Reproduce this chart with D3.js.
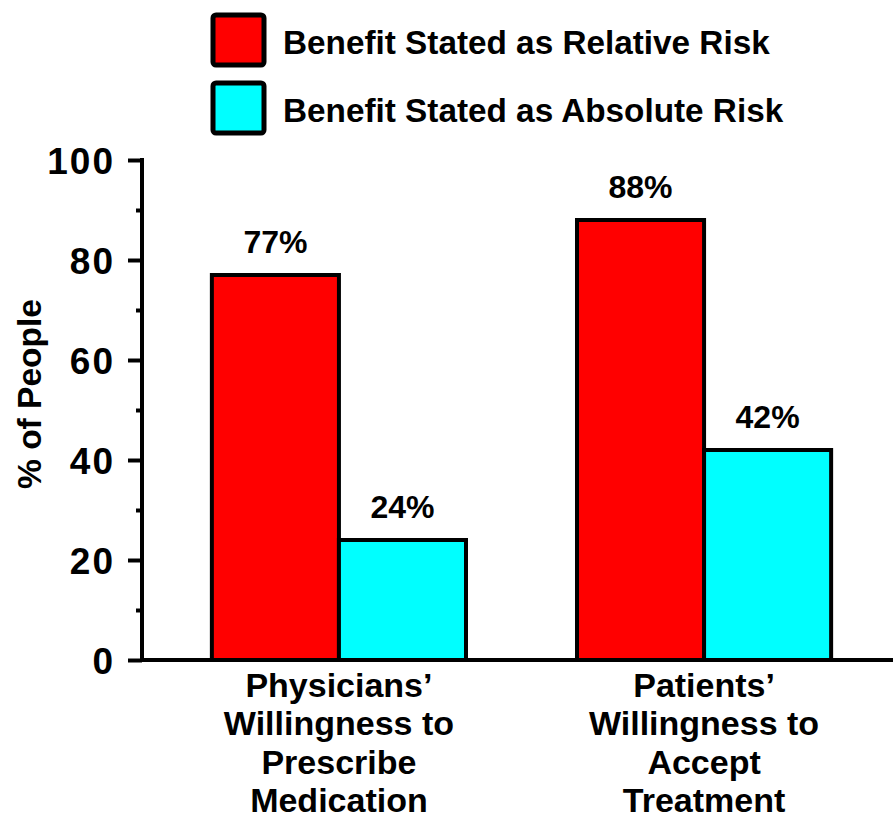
<!DOCTYPE html>
<html><head><meta charset="utf-8">
<script src="https://cdn.jsdelivr.net/npm/d3@7"></script>
<style>
html,body{margin:0;padding:0;background:#fff;}
svg text{font-family:"Liberation Sans",Arial,sans-serif;font-weight:bold;fill:#000;}
</style></head>
<body><svg id="chart" width="896" height="820"></svg>
<script>
const categories = [["Physicians\u2019","Willingness to","Prescribe","Medication"],["Patients\u2019","Willingness to","Accept","Treatment"]];
const groupKeys = ["g1","g2"];
const seriesNames = ["Benefit Stated as Relative Risk","Benefit Stated as Absolute Risk"];
const seriesColors = ["#ff0000","#00ffff"];
const relativeValues = [77, 88];
const absoluteValues = [24, 42];
const yTicks = [0, 20, 40, 60, 80, 100];
const yMinorTicks = [10, 30, 50, 70, 90];

const svg = d3.select("#chart");
const y = d3.scaleLinear().domain([0,100]).range([660,160]);
const x0 = d3.scaleBand().domain(groupKeys).range([156,887]).paddingInner(0.304).paddingOuter(0.153);
const x1 = d3.scaleBand().domain([0,1]).range([0,x0.bandwidth()]).padding(0);
const series = [relativeValues, absoluteValues];

// bars
groupKeys.forEach((g,gi)=>{
  series.forEach((vals,si)=>{
    const bx = x0(g)+x1(si), bw = x1.bandwidth();
    svg.append("rect").attr("x",bx).attr("y",y(vals[gi])).attr("width",bw).attr("height",y(0)-y(vals[gi]))
      .attr("fill",seriesColors[si]).attr("stroke","#000").attr("stroke-width",4);
    svg.append("text").attr("x",bx+bw/2).attr("y",y(vals[gi])-22).attr("text-anchor","middle")
      .attr("font-size",32).text(vals[gi]+"%");
  });
});

// y axis
const yAxis = d3.axisLeft(y).tickValues(yTicks).tickSize(14).tickPadding(13).tickSizeOuter(0);
const ga = svg.append("g").attr("transform","translate(142,0)").call(yAxis);
ga.select(".domain").attr("stroke","#000").attr("stroke-width",4).attr("d","M0,158V662");
ga.selectAll(".tick line").attr("stroke","#000").attr("stroke-width",4);
ga.selectAll(".tick text").attr("font-size",37).attr("dy","0.36em").attr("letter-spacing",2)
  .style("font-family",'"Liberation Sans",Arial,sans-serif').style("font-weight","bold");
const yMinor = d3.axisLeft(y).tickValues(yMinorTicks).tickSize(6).tickFormat("");
const gm = svg.append("g").attr("transform","translate(142,0)").call(yMinor);
gm.select(".domain").remove();
gm.selectAll(".tick line").attr("stroke","#000").attr("stroke-width",4);

// x axis line
svg.append("line").attr("x1",140).attr("x2",893).attr("y1",y(0)).attr("y2",y(0)).attr("stroke","#000").attr("stroke-width",4);

// category labels
groupKeys.forEach((g,gi)=>{
  const cx = x0(g)+x0.bandwidth()/2;
  const t = svg.append("text").attr("text-anchor","middle").attr("font-size",34);
  categories[gi].forEach((line,li)=>{
    t.append("tspan").attr("x",cx).attr("y",697+li*38.3).text(line);
  });
});

// y label
svg.append("text").attr("transform","translate(41,394) rotate(-90)").attr("text-anchor","middle")
  .attr("font-size",33.5).text("% of People");

// legend
seriesNames.forEach((name,i)=>{
  const ly = 13 + i*68;
  svg.append("rect").attr("x",213).attr("y",ly+2).attr("width",51).attr("height",50).attr("rx",3)
    .attr("fill",seriesColors[i]).attr("stroke","#000").attr("stroke-width",5);
  svg.append("text").attr("x",283).attr("y",ly+29).attr("dy","0.35em").attr("font-size",33.3).text(name);
});
</script></body></html>
